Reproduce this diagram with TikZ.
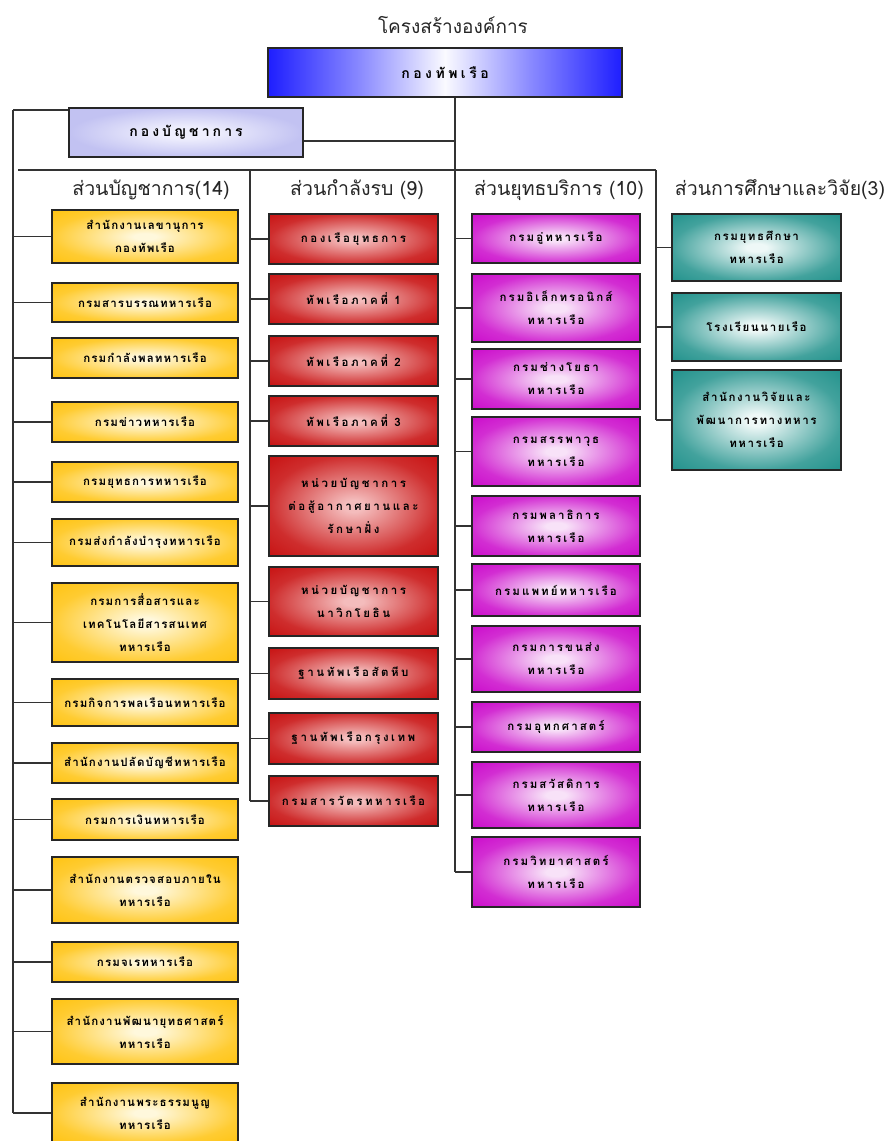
\documentclass[tikz,border=0pt]{standalone}
\usepackage{fontspec}
\setmainfont[Script=Thai]{Loma}
\definecolor{ycen}{HTML}{FFF8DC}\definecolor{yedge}{HTML}{FFC414}
\definecolor{rcen}{HTML}{F4BCBC}\definecolor{redge}{HTML}{C81414}
\definecolor{mcen}{HTML}{F8E2F8}\definecolor{medge}{HTML}{CC0ECC}
\definecolor{tcen}{HTML}{EEF8F7}\definecolor{tedge}{HTML}{24938D}
\definecolor{lcen}{HTML}{EEEEFD}\definecolor{ledge}{HTML}{C2C2F2}
\definecolor{bedge}{HTML}{1E1EFF}\definecolor{bmid}{HTML}{8A8AFF}\definecolor{bcen}{HTML}{FAFAFF}
\pgfdeclareradialshading{yelsh}{\pgfpointorigin}{color(0bp)=(ycen);color(3bp)=(ycen);color(25bp)=(yedge!85!ycen);color(35bp)=(yedge);color(50bp)=(yedge)}
\pgfdeclareradialshading{redsh}{\pgfpointorigin}{color(0bp)=(rcen);color(3bp)=(rcen);color(25bp)=(redge!85!rcen);color(35bp)=(redge);color(50bp)=(redge)}
\pgfdeclareradialshading{magsh}{\pgfpointorigin}{color(0bp)=(mcen);color(3bp)=(mcen);color(25bp)=(medge!85!mcen);color(35bp)=(medge);color(50bp)=(medge)}
\pgfdeclareradialshading{tealsh}{\pgfpointorigin}{color(0bp)=(tcen);color(3bp)=(tcen);color(25bp)=(tedge!85!tcen);color(35bp)=(tedge);color(50bp)=(tedge)}
\pgfdeclareradialshading{lavsh}{\pgfpointorigin}{color(0bp)=(lcen);color(6bp)=(lcen);color(25bp)=(ledge);color(50bp)=(ledge)}
\pgfdeclarehorizontalshading{bluesh}{100bp}{color(0bp)=(bedge);color(25bp)=(bedge);color(38bp)=(bmid);color(50bp)=(bcen);color(62bp)=(bmid);color(75bp)=(bedge);color(100bp)=(bedge)}
\newcommand\ob[6]{\node[#1, minimum width=#4, minimum height=#5] (#2) at (#3) {#6};}
\tikzset{
  box/.style={draw=black!85, line width=1.6pt, shade, inner sep=1pt, align=center, text=black},
  ybox/.style={box, shading=yelsh, font=\bfseries\fontsize{11.5}{23}\selectfont\addfontfeature{LetterSpace=10}},
  rbox/.style={box, shading=redsh, font=\bfseries\fontsize{11.5}{23}\selectfont\addfontfeature{LetterSpace=22}},
  mbox/.style={box, shading=magsh, font=\bfseries\fontsize{11.5}{23}\selectfont\addfontfeature{LetterSpace=18}},
  tbox/.style={box, shading=tealsh, font=\bfseries\fontsize{11.5}{23}\selectfont\addfontfeature{LetterSpace=14}},
  conn/.style={draw=black!80, line width=1.3pt},
  head/.style={font=\fontsize{19.5}{22}\selectfont, text=black!85, inner sep=0pt}
}
\begin{document}
\begin{tikzpicture}[x=1pt,y=-1pt]
\useasboundingbox (0,0) rectangle (889,1141);
\clip (0,0) rectangle (889,1141);
\node[head, font=\fontsize{19}{22}\selectfont] (title) at (453,25) {โครงสร้างองค์การ};
\node[box, shading=bluesh, minimum width=354pt, minimum height=49pt, font=\bfseries\fontsize{14}{16}\selectfont\addfontfeature{LetterSpace=25}] (navy) at (445,72.5) {กองทัพเรือ};
\node[box, shading=lavsh, minimum width=234pt, minimum height=49pt, font=\bfseries\fontsize{14}{16}\selectfont\addfontfeature{LetterSpace=22}] (hq) at (186,132.5) {กองบัญชาการ};
% headers
\node[head] (h1) at (151,190) {ส่วนบัญชาการ(14)};
\node[head] (h2) at (357,190) {ส่วนกำลังรบ (9)};
\node[head] (h3) at (559,190) {ส่วนยุทธบริการ (10)};
\node[head] (h4) at (780,190) {ส่วนการศึกษาและวิจัย(3)};
% column 1
\ob{ybox}{a1}{145,236.5}{186pt}{53pt}{สำนักงานเลขานุการ\\กองทัพเรือ}
\ob{ybox}{a2}{145,302.5}{186pt}{39pt}{กรมสารบรรณทหารเรือ}
\ob{ybox}{a3}{145,358}{186pt}{40pt}{กรมกำลังพลทหารเรือ}
\ob{ybox}{a4}{145,422}{186pt}{40pt}{กรมข่าวทหารเรือ}
\ob{ybox}{a5}{145,482}{186pt}{40pt}{กรมยุทธการทหารเรือ}
\ob{ybox}{a6}{145,542.5}{186pt}{47pt}{กรมส่งกำลังบำรุงทหารเรือ}
\ob{ybox}{a7}{145,622.5}{186pt}{79pt}{กรมการสื่อสารและ\\เทคโนโลยีสารสนเทศ\\ทหารเรือ}
\ob{ybox}{a8}{145,702.5}{186pt}{47pt}{กรมกิจการพลเรือนทหารเรือ}
\ob{ybox}{a9}{145,763}{186pt}{40pt}{สำนักงานปลัดบัญชีทหารเรือ}
\ob{ybox}{a10}{145,819.5}{186pt}{41pt}{กรมการเงินทหารเรือ}
\ob{ybox}{a11}{145,890}{186pt}{66pt}{สำนักงานตรวจสอบภายใน\\ทหารเรือ}
\ob{ybox}{a12}{145,962}{186pt}{40pt}{กรมจเรทหารเรือ}
\ob{ybox}{a13}{145,1031.5}{186pt}{65pt}{สำนักงานพัฒนายุทธศาสตร์\\ทหารเรือ}
\ob{ybox}{a14}{145,1113}{186pt}{60pt}{สำนักงานพระธรรมนูญ\\ทหารเรือ}
% column 2
\ob{rbox}{b1}{353.5,239}{169pt}{50pt}{กองเรือยุทธการ}
\ob{rbox}{b2}{353.5,299}{169pt}{50pt}{ทัพเรือภาคที่ 1}
\ob{rbox}{b3}{353.5,361}{169pt}{50pt}{ทัพเรือภาคที่ 2}
\ob{rbox}{b4}{353.5,421}{169pt}{50pt}{ทัพเรือภาคที่ 3}
\ob{rbox}{b5}{353.5,506}{169pt}{100pt}{หน่วยบัญชาการ\\ต่อสู้อากาศยานและ\\รักษาฝั่ง}
\ob{rbox}{b6}{353.5,601.5}{169pt}{69pt}{หน่วยบัญชาการ\\นาวิกโยธิน}
\ob{rbox}{b7}{353.5,673.5}{169pt}{51pt}{ฐานทัพเรือสัตหีบ}
\ob{rbox}{b8}{353.5,738.5}{169pt}{51pt}{ฐานทัพเรือกรุงเทพ}
\ob{rbox}{b9}{353.5,801}{169pt}{50pt}{กรมสารวัตรทหารเรือ}
% column 3
\ob{mbox}{c1}{556,238.5}{168pt}{49pt}{กรมอู่ทหารเรือ}
\ob{mbox}{c2}{556,308}{168pt}{68pt}{กรมอิเล็กทรอนิกส์\\ทหารเรือ}
\ob{mbox}{c3}{556,379}{168pt}{60pt}{กรมช่างโยธา\\ทหารเรือ}
\ob{mbox}{c4}{556,451.5}{168pt}{69pt}{กรมสรรพาวุธ\\ทหารเรือ}
\ob{mbox}{c5}{556,526}{168pt}{60pt}{กรมพลาธิการ\\ทหารเรือ}
\ob{mbox}{c6}{556,590}{168pt}{52pt}{กรมแพทย์ทหารเรือ}
\ob{mbox}{c7}{556,659}{168pt}{66pt}{กรมการขนส่ง\\ทหารเรือ}
\ob{mbox}{c8}{556,727}{168pt}{50pt}{กรมอุทกศาสตร์}
\ob{mbox}{c9}{556,795}{168pt}{66pt}{กรมสวัสดิการ\\ทหารเรือ}
\ob{mbox}{c10}{556,872}{168pt}{70pt}{กรมวิทยาศาสตร์\\ทหารเรือ}
% column 4
\ob{tbox}{d1}{756.5,247.5}{169pt}{67pt}{กรมยุทธศึกษา\\ทหารเรือ}
\ob{tbox}{d2}{756.5,327}{169pt}{68pt}{โรงเรียนนายเรือ}
\ob{tbox}{d3}{756.5,420}{169pt}{100pt}{สำนักงานวิจัยและ\\พัฒนาการทางทหาร\\ทหารเรือ}
% trunks
\coordinate (tm) at (455,141);
\coordinate (t1) at (13,110);
\coordinate (t2) at (250,170);
\coordinate (t4) at (656,170);
\coordinate (hl) at (18,170);
\draw[conn] (navy.south -| tm) -- (c10.west -| tm);
\draw[conn] (hq.east |- tm) -- (tm);
\draw[conn] (t1) -- (hq.west |- t1);
\draw[conn] (t1) -- (a14.west -| t1);
\draw[conn] (hl) -- (t4);
\draw[conn] (t2) -- (b9.west -| t2);
\draw[conn] (t4) -- (d3.west -| t4);
\foreach \n in {a1,a2,a3,a4,a5,a6,a7,a8,a9,a10,a11,a12,a13,a14}{\draw[conn] (\n.west -| t1) -- (\n.west);}
\foreach \n in {b1,b2,b3,b4,b5,b6,b7,b8,b9}{\draw[conn] (\n.west -| t2) -- (\n.west);}
\foreach \n in {c1,c2,c3,c4,c5,c6,c7,c8,c9,c10}{\draw[conn] (\n.west -| tm) -- (\n.west);}
\foreach \n in {d1,d2,d3}{\draw[conn] (\n.west -| t4) -- (\n.west);}
\end{tikzpicture}
\end{document}
